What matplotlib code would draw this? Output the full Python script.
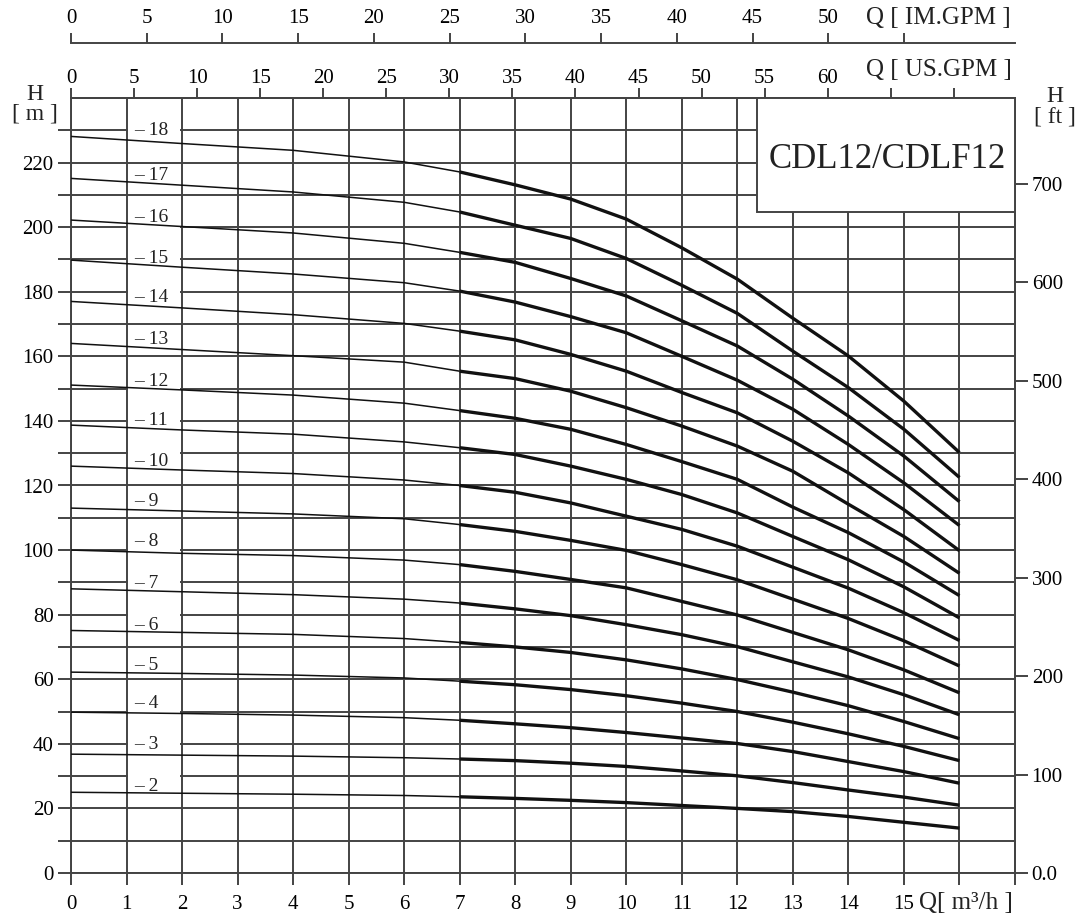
import numpy as np
import matplotlib
matplotlib.use("Agg")
import matplotlib.pyplot as plt
from matplotlib.patches import Rectangle

plt.rcParams["font.family"] = ["Liberation Serif", "DejaVu Serif"]

# ==============================
# Data
# ==============================

flow = [0, 2, 4, 6, 7, 8, 9, 10, 11, 12, 13, 14, 15, 16]

stages = [18, 17, 16, 15, 14, 13, 12, 11, 10, 9, 8, 7, 6, 5, 4, 3, 2]

head_18 = [228.1, 225.9, 223.8, 220.2, 217.1, 213.1, 208.7, 202.5, 193.6, 183.9, 171.8, 160.1, 146.1, 130.2]
head_17 = [215.1, 213.0, 210.9, 207.7, 204.7, 200.6, 196.5, 190.3, 182.0, 173.3, 161.6, 150.3, 137.4, 122.5]
head_16 = [202.2, 200.2, 198.2, 195.0, 192.2, 189.1, 184.1, 178.7, 171.0, 163.2, 152.9, 141.5, 129.1, 115.0]
head_15 = [189.8, 187.6, 185.5, 182.8, 180.2, 176.8, 172.3, 167.3, 160.0, 152.6, 143.6, 132.7, 120.8, 107.6]
head_14 = [177.0, 175.0, 172.9, 170.2, 167.8, 165.1, 160.6, 155.4, 148.8, 142.5, 133.7, 123.9, 112.5, 99.8]
head_13 = [164.0, 162.1, 160.2, 158.2, 155.4, 153.1, 149.2, 144.1, 138.4, 132.2, 124.4, 114.2, 104.2, 92.8]
head_12 = [151.1, 149.6, 148.0, 145.5, 143.2, 140.8, 137.4, 132.7, 127.4, 121.9, 113.3, 105.4, 96.3, 85.9]
head_11 = [138.7, 137.2, 135.9, 133.5, 131.7, 129.6, 126.0, 121.9, 117.2, 111.5, 104.2, 97.0, 88.6, 79.0]
head_10 = [126.0, 124.8, 123.7, 121.7, 120.0, 117.9, 114.6, 110.5, 106.4, 101.2, 94.7, 88.2, 80.6, 72.0]
head_9 = [113.0, 112.1, 111.2, 109.7, 107.9, 105.8, 103.0, 99.9, 95.5, 90.8, 84.8, 78.8, 71.9, 64.1]
head_8 = [100.0, 99.0, 98.3, 96.9, 95.5, 93.4, 90.9, 88.3, 84.1, 79.9, 74.5, 69.1, 62.9, 55.8]
head_7 = [88.0, 87.1, 86.2, 84.8, 83.6, 81.8, 79.7, 76.9, 73.8, 70.1, 65.4, 60.7, 55.2, 49.0]
head_6 = [75.1, 74.5, 73.9, 72.6, 71.4, 70.0, 68.3, 66.0, 63.2, 59.9, 56.0, 51.8, 46.9, 41.6]
head_5 = [62.2, 61.8, 61.3, 60.4, 59.4, 58.3, 56.8, 54.9, 52.6, 50.0, 46.7, 43.1, 39.2, 34.8]
head_4 = [49.8, 49.4, 48.9, 48.1, 47.3, 46.2, 45.0, 43.5, 41.8, 40.1, 37.6, 34.5, 31.4, 27.8]
head_3 = [36.8, 36.5, 36.2, 35.7, 35.3, 34.8, 34.0, 33.0, 31.6, 30.1, 28.0, 25.7, 23.5, 21.0]
head_2 = [25.0, 24.7, 24.4, 24.0, 23.6, 23.1, 22.5, 21.8, 20.9, 20.0, 19.0, 17.5, 15.7, 13.9]

heads = [head_18, head_17, head_16, head_15, head_14, head_13, head_12, head_11,
         head_10, head_9, head_8, head_7, head_6, head_5, head_4, head_3, head_2]

# label height of each "- n" tag
label_y = [229.8, 216.1, 203.1, 190.4, 178.3, 165.3, 152.2, 140.2, 127.4,
           115.0, 102.6, 89.6, 76.6, 64.2, 52.4, 39.7, 26.7]

title = "CDL12/CDLF12"

M3H_TO_USGPM = 4.4029
M3H_TO_IMGPM = 3.6662
M_TO_FT = 3.2808

# ==============================
# Figure
# ==============================

W, H = 1083, 921
fig = plt.figure(figsize=(W / 100, H / 100), dpi=100)
ax = fig.add_axes([71 / W, (H - 873) / H, (1015 - 71) / W, (873 - 98) / H])

ax.set_xlim(0, 17)
ax.set_ylim(0, 240)

grid_col = "#434343"
ink = "#111111"
fs = 15

for sp in ax.spines.values():
    sp.set_color(grid_col)
    sp.set_linewidth(1.4)

# grid
ax.set_xticks(np.arange(0, 18, 1))
ax.set_xticklabels([str(i) for i in range(16)] + ["", ""])
ax.set_yticks(np.arange(0, 221, 20))
ax.set_yticks(np.arange(10, 241, 20), minor=True)
ax.set_yticklabels([str(v) for v in range(0, 221, 20)])
ax.grid(True, which="major", axis="x", color=grid_col, lw=1.4, zorder=1)
ax.grid(True, which="both", axis="y", color=grid_col, lw=1.4, zorder=1)
ax.set_axisbelow(True)

ax.tick_params(axis="x", which="major", direction="out", length=8.5, width=1.4,
               color=grid_col, labelsize=fs, pad=7)
ax.tick_params(axis="y", which="both", direction="out", length=9.5, width=1.4,
               color=grid_col, labelsize=fs, pad=3)
ax.tick_params(top=False, right=False)

# label boxes that break the grid between Q=1 and Q=2
for n, yl in zip(stages, label_y):
    ax.add_patch(Rectangle((1.03, yl - 3.5), 0.94, 7.0, facecolor="white",
                           edgecolor="none", zorder=2))
    ax.text(1.13, yl, "\u2013 " + str(n), fontsize=14, ha="left", va="center",
            color="#222", zorder=5)

# curves: thin below Q=7, thick working range above
for h in heads:
    ax.plot(flow[:5], h[:5], color=ink, lw=1.1, zorder=3, solid_capstyle="butt")
    ax.plot(flow[4:], h[4:], color=ink, lw=2.4, zorder=3,
            solid_joinstyle="round", solid_capstyle="butt")

# title box
ax.add_patch(Rectangle((12.36, 204.6), 17 - 12.36, 240 - 204.6, facecolor="white",
                       edgecolor=grid_col, lw=1.4, zorder=4, clip_on=False))
ax.text(14.70, 221.0, title, fontsize=25, ha="center", va="center", color="#222", zorder=5)

# ==============================
# Secondary axes
# ==============================

sec_us = ax.secondary_xaxis("top", functions=(lambda q: q * M3H_TO_USGPM,
                                              lambda g: g / M3H_TO_USGPM))
us_ticks = np.arange(0, 71, 5)
sec_us.set_xticks(us_ticks)
sec_us.set_xticklabels([str(t) if t <= 60 else "" for t in us_ticks])
sec_us.tick_params(direction="out", length=7.5, width=1.4, color=grid_col,
                   labelsize=fs, pad=0)
sec_us.spines["top"].set_color(grid_col)
sec_us.spines["top"].set_linewidth(1.4)

sec_im = ax.secondary_xaxis(1 + 55 / 775, functions=(lambda q: q * M3H_TO_IMGPM,
                                                      lambda g: g / M3H_TO_IMGPM))
im_ticks = np.arange(0, 56, 5)
sec_im.set_xticks(im_ticks)
sec_im.set_xticklabels([str(t) if t <= 50 else "" for t in im_ticks])
sec_im.tick_params(direction="out", length=7.5, width=1.4, color=grid_col,
                   labelsize=fs, pad=3)
sec_im.spines["top"].set_color(grid_col)
sec_im.spines["top"].set_linewidth(1.4)

sec_ft = ax.secondary_yaxis("right", functions=(lambda m: m * M_TO_FT,
                                                lambda f: f / M_TO_FT))
ft_ticks = np.arange(0, 701, 100)
sec_ft.set_yticks(ft_ticks)
sec_ft.set_yticklabels(["0.0"] + [str(t) for t in ft_ticks[1:]])
sec_ft.tick_params(direction="out", length=9, width=1.4, color=grid_col,
                   labelsize=fs, pad=3)
sec_ft.spines["right"].set_color(grid_col)
sec_ft.spines["right"].set_linewidth(1.4)

# ==============================
# Axis titles (pixel positions)
# ==============================

def fig_text(px, py, s, size=18, **kw):
    fig.text(px / W, 1 - py / H, s, fontsize=size, color="#222", **kw)

fig_text(866, 18, "Q [ IM.GPM ]", ha="left", va="center")
fig_text(866, 70, "Q [ US.GPM ]", ha="left", va="center")
fig_text(919, 903, "Q[ m\u00b3/h ]", ha="left", va="center")
fig_text(35, 95, "H", size=17, ha="center", va="center")
fig_text(35, 114, "[ m ]", size=17, ha="center", va="center")
fig_text(1055, 97, "H", size=17, ha="center", va="center")
fig_text(1055, 117, "[ ft ]", size=17, ha="center", va="center")

fig.savefig("out.png", dpi=100, facecolor="white")
